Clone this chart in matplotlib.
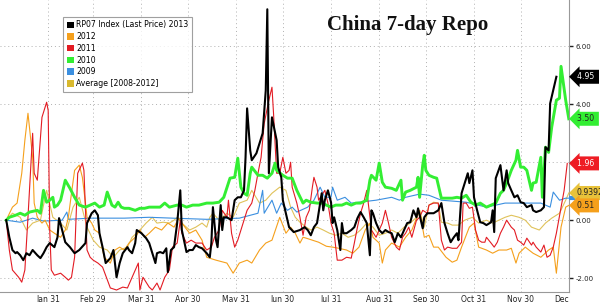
import numpy as np
import matplotlib.pyplot as plt
from matplotlib.patches import Patch

# day-of-year positions, all years overlaid on one calendar
month_days = [31, 60, 91, 121, 152, 182, 213, 244, 274, 305, 335, 366]
month_labels = ["Jan 31", "Feb 29", "Mar 31", "Apr 30", "May 31", "Jun 30",
                "Jul 31", "Aug 31", "Sep 30", "Oct 31", "Nov 30", "Dec"]

# RP07 2013 (black)
days_2013 = [4,6,8,10,11,13,15,17,19,21, 24,26,28,30,32,35,37,38,40,42,
             45,48,51,55,56,59,61,63,64,66, 68,71,73,75,77,79,82,83,85,87,
             88,91,94,96,100,101,103,105,107,108, 110,112,114,116,117,120,122,124,126,128,
             130,133,135,136,137,139,140,142,143,144, 146,149,151,153,155,157,158,159,161,162,
             165,167,169,171,172,173,175,178,179,181, 182,186,189,193,196,198,200,202,204,207,
             208,209,211,213,214,215,217,219,220,221, 223,226,228,230,232,234,236,238,239,240,
             242,244,246,248,250,252,254,256,258,260, 262,264,266,268,269,272,273,275,276,279,
             282,284,286,288,290,292,294,295,297,299, 301,302,304,305,307,309,311,313,316,317,
             318,319,322,324,326,327,329,331,333,335, 337,339,342,343,345,348,350,351,353,354,
             358]
vals_2013 = [0.00,-0.59,-1.03,-1.14,-1.10,-1.21,-1.38,-1.14,-1.21,-1.03, -1.21,-1.31,-1.14,-0.93,-0.79,-0.93,-0.59,0.07,-0.34,-0.76,
             -0.93,-1.14,-1.03,-0.79,-0.10,0.24,0.34,0.17,-0.45,-0.93, -1.48,-1.31,-1.03,-1.97,-1.48,-1.14,-0.93,-1.03,-1.14,-0.79,
             -0.34,-0.45,-0.62,-0.79,-1.48,-1.14,-1.10,-1.14,-0.97,-1.79, -1.03,-0.93,-0.10,1.03,-0.34,-1.10,-1.03,-1.03,-0.86,-0.93,
             -0.97,-1.14,-1.28,-0.79,0.45,-0.69,-0.93,0.52,-0.34,0.10, 0.10,0.00,0.69,0.79,0.79,1.03,2.17,3.86,2.41,2.07,
             2.31,2.66,3.00,4.48,7.28,1.62,3.55,2.76,1.83,1.48, 0.69,-0.24,-0.41,-0.34,-0.24,-0.34,-0.52,-0.24,-0.10,0.93,
             0.34,0.69,1.03,0.62,-0.10,0.10,-0.34,-1.03,-0.10,-0.45, -0.45,-0.34,-0.24,0.07,0.28,0.10,-0.10,-1.21,0.34,0.24,
             -0.10,-0.34,-0.45,-0.34,-0.41,-0.45,-0.76,-0.45,-0.59,-0.34, -0.10,-0.07,0.34,0.10,0.41,-0.28,0.10,0.24,0.24,0.24,
             0.34,0.59,-0.10,-0.45,-0.76,-0.59,-0.45,-0.69,0.93,1.28, 1.62,1.28,1.72,0.79,0.34,-0.07,-0.10,-0.17,-0.07,0.34,
             -0.41,1.45,1.90,1.03,1.72,1.28,1.03,0.79,0.86,0.62, 0.59,0.45,0.52,0.34,0.28,0.34,0.45,2.52,2.41,4.03,
             4.95]

# 2012 (orange)
days_2012 = [4,8,11,14,16,18,21,22,24,27, 29,32,35,39,42,44,46,48,51,53,
             55,56,59,61,64,67,71,74,77,80, 83,87,90,93,96,100,104,108,112,115,
             118,122,126,130,133,139,146,150,154,159, 162,167,171,175,180,184,187,190,193,195,
             197,201,205,210,214,218,223,227,231,235, 238,240,244,246,248,252,257,261,265,270,
             273,276,279,282,287,291,294,297,302,305, 308,313,317,321,326,329,332,334,338,343,
             348,353,356,358,361,364,366]
vals_2012 = [0.00,0.45,0.59,1.62,2.76,3.69,2.17,0.59,0.10,-0.10, 0.00,-0.34,-0.45,-0.59,-0.34,0.10,0.93,1.72,1.90,1.48,
             0.59,0.10,-0.10,-0.34,-0.45,-1.28,-1.48,-1.03,-0.93,-1.03, -0.79,-0.59,-0.34,-0.59,-0.45,-0.24,-0.34,-0.10,-0.24,0.07,
             -0.17,-0.45,-0.34,-0.69,-1.28,-1.38,-1.48,-1.83,-1.48,-1.38, -1.48,-1.03,-0.79,-0.69,0.10,-0.45,-0.24,-0.45,-0.79,-0.59,
             -0.62,-0.69,-0.76,-0.90,-0.93,-0.97,-1.03,-1.14,-0.93,-0.34, -0.10,-0.59,-0.79,-1.48,-1.03,-0.79,-0.93,-0.59,-0.34,0.34,
             -0.59,-0.52,-0.93,-0.93,-1.28,-1.45,-1.38,-0.93,-0.24,-0.10, -0.93,-1.03,-1.14,-1.03,-1.03,-0.97,-1.48,-1.14,-0.93,-1.14,
             -1.28,-1.03,-0.93,-1.83,-0.24,0.45,0.51]

# 2011 (red)
days_2011 = [4,6,8,12,14,16,18,21,22,24, 27,30,31,32,33,35,39,42,44,46,
             48,50,53,54,56,58,60,63,66,71, 75,79,82,85,87,89,90,92,94,96,
             98,101,103,106,109,111,114,116,117,120, 123,126,130,133,136,138,141,143,146,147,
             149,151,153,155,157,159,162,164,166,168, 170,173,175,176,178,180,182,184,186,187,
             188,191,193,195,197,199,201,202,204,205, 209,211,213,215,217,220,223,226,228,230,
             232,234,236,238,239,242,244,246,248,250, 252,255,257,259,261,263,265,268,270,272,
             275,276,279,282,284,286,288,291,294,297, 298,300,302,304,306,308,310,312,313,316,
             318,320,322,324,326,329,331,333,335,337, 339,342,343,345,348,350,352,354,356,358,
             361,363,365]
vals_2011 = [0.00,-1.03,-1.72,-1.97,-2.14,-1.72,0.10,3.00,1.62,1.38, 3.55,4.07,3.79,-0.34,-1.72,-1.90,-1.83,-1.97,-2.07,-1.97,
             -1.28,1.62,1.97,1.72,-1.03,-1.28,-1.38,-1.48,-1.62,-2.34, -2.41,-2.31,-2.34,-1.97,-1.72,-1.48,-2.41,-1.97,-2.14,-2.31,
             -2.41,-2.17,-2.41,-1.97,-1.72,-0.93,-0.79,0.00,-0.45,-0.79, -0.69,-0.79,-0.79,-1.03,-0.93,-0.59,-0.34,0.34,0.10,0.69,
             -0.45,-0.93,-0.69,-0.34,0.00,0.34,0.59,1.03,1.62,2.17, 3.34,4.14,4.59,3.69,1.62,1.62,2.17,1.62,1.72,2.00,
             1.14,0.59,0.10,-0.52,0.10,0.34,1.14,1.48,1.14,0.69, 1.03,0.59,-0.10,-0.45,-1.38,-1.38,-1.28,-1.31,-0.79,-0.24,
             0.24,0.59,1.03,0.10,-0.34,-0.59,-0.34,-0.10,0.34,-0.10, -0.59,-0.93,-1.03,-0.59,-0.45,-0.24,-0.59,0.00,0.10,0.34,
             0.24,0.52,0.59,0.59,-0.69,-1.03,-0.93,-0.97,-0.97,-0.76, 0.59,0.59,0.41,0.45,-0.34,-0.69,-0.76,-0.76,-0.59,-0.79,
             -0.93,-0.76,-0.45,-0.24,0.00,-0.24,-0.34,-0.69,-0.76,-0.86, -0.62,-0.86,-0.76,-0.93,-1.10,-0.86,-1.28,-1.21,-0.93,-0.45,
             0.45,1.03,1.96]

# 2010 (green)
days_2010 = [4,6,10,13,16,19,24,26,28,30, 32,34,35,37,39,42,45,48,51,55,
             58,61,64,67,69,72,74,76,78,80, 83,87,90,93,96,103,106,109,114,117,
             120,124,128,133,137,141,144,148,151,153, 155,157,159,161,162,166,169,172,175,177,
             178,182,185,188,191,195,197,200,204,207, 210,213,216,220,223,226,229,232,236,238,
             239,242,244,246,248,252,255,258,259,261, 264,268,269,270,272,273,274,276,279,281,
             284,287,291,294,297,300,303,306,309,313, 316,319,322,324,326,329,332,333,335,337,
             339,342,343,345,348,349,351,353,355,358, 360,361,364,366]
vals_2010 = [0.00,0.10,0.17,0.24,0.17,0.28,0.34,0.24,1.03,0.62, 0.69,0.79,0.45,0.52,0.69,1.38,1.10,0.79,0.52,0.45,
             0.52,0.59,0.45,0.52,0.97,0.52,0.45,0.62,0.45,0.41, 0.41,0.34,0.41,0.41,0.45,0.45,0.59,0.45,0.52,0.52,
             0.45,0.52,0.52,0.59,0.59,0.62,0.79,1.45,1.48,2.14, 1.14,0.93,0.86,1.62,1.83,1.55,1.55,1.45,1.62,1.97,
             1.72,1.55,1.45,1.45,1.03,0.59,0.69,0.62,0.59,0.59, 0.52,0.45,0.52,0.52,0.59,0.52,0.59,0.59,0.69,1.38,
             1.55,1.38,1.97,1.31,1.14,1.10,1.03,1.38,0.69,0.97, 1.03,1.14,1.48,0.79,1.90,2.24,1.72,1.55,1.48,1.45,
             0.76,0.76,0.76,0.79,0.76,0.86,0.62,0.52,0.59,0.45, 0.52,0.59,0.93,1.03,1.28,1.72,2.07,2.41,1.83,1.83,
             1.72,1.03,1.28,1.31,2.17,0.79,2.52,2.34,3.21,4.14, 4.21,5.31,4.14,3.50]

# 2009 (blue)
days_2009 = [4,13,21,28,40,43,44,58,80,96, 111,133,154,166,169,170,175,178,181,185,
             188,191,198,202,206,209,213,214,217,222, 226,231,242,252,257,261,270,276,284,300,
             313,325,338,348,354,356,360,364,366]
vals_2009 = [0.00,-0.07,0.07,-0.03,0.00,0.28,0.03,0.07,0.07,0.10, 0.07,0.03,0.07,0.24,1.03,0.24,0.69,0.24,0.59,0.34,
             0.45,0.28,0.45,0.69,1.14,0.79,0.79,1.14,0.69,0.79, 0.59,0.62,0.69,0.79,0.69,0.79,0.90,0.86,0.69,0.62,
             0.45,0.59,0.59,0.59,0.45,0.97,0.69,0.76,0.76]

# Average [2008-2012] (gold)
days_avg = [4,8,13,17,21,26,30,34,39,43, 47,51,56,60,64,69,73,77,82,85,
            90,94,98,101,105,109,112,114,117,122, 126,130,133,135,137,141,146,150,154,159,
            162,167,171,175,180,184,187,190,193,197, 200,204,208,212,216,220,224,228,232,236,
            240,244,248,252,256,260,264,268,270,273, 276,279,282,284,288,291,295,299,304,308,
            313,317,321,325,329,334,338,342,347,351, 355,360,364,366]
vals_avg = [0.00,0.24,0.10,-0.34,-0.10,0.00,1.03,0.10,-0.10,-0.34, 0.45,0.79,-0.24,-0.69,-0.93,-1.03,-1.28,-1.03,-0.93,-0.59,
            -0.34,-0.10,0.10,-0.10,-0.07,-0.10,0.00,0.10,-0.10,-0.34, -0.24,-0.10,-0.24,0.10,0.24,0.00,0.24,0.10,0.59,0.69,
            1.03,0.59,0.69,0.93,1.14,1.03,0.45,0.10,-0.07,-0.24, -0.34,-0.24,-0.34,-0.45,-0.52,-0.45,-0.59,-0.52,-0.34,-0.10,
            -0.24,-0.52,-0.45,-0.34,-0.45,-0.24,-0.10,0.10,0.34,-0.24, 0.52,0.62,0.59,-0.07,-0.10,-0.17,-0.17,0.00,0.10,-0.10,
            0.00,-0.10,0.00,0.10,0.17,0.10,0.00,-0.24,-0.34,-0.10, 0.07,0.24,0.69,0.94]

# last-value tags on the right axis (2009 tag sits hidden behind the others)
last_2009 = 0.76
tag_vals = [0.9392, 0.51, 1.96, 3.50, 4.95]
tag_text = ["0.9392", "0.51 ", "1.96 ", "3.50 ", "4.95 "]
tag_bg = ["#e8c23a", "#f5a01c", "#ee1c24", "#33ee33", "#000000"]
tag_fg = ["#222222", "#222222", "white", "#222222", "white"]

c_2013 = "#000000"
c_2012 = "#f5a01c"
c_2011 = "#e31b23"
c_2010 = "#33ee33"
c_2009 = "#3b8fe0"
c_avg = "#e0c25a"

fig = plt.figure(figsize=(6, 3.02), dpi=100)
ax = fig.add_axes([0, 0.033, 0.948, 0.967])

ax.plot(days_avg, vals_avg, color=c_avg, lw=0.8, zorder=2)
ax.plot(days_2009, vals_2009, color=c_2009, lw=0.8, zorder=2.1)
ax.plot(days_2012, vals_2012, color=c_2012, lw=0.8, zorder=2.2)
ax.plot(days_2011, vals_2011, color=c_2011, lw=0.8, zorder=2.3)
ax.plot(days_2010, vals_2010, color=c_2010, lw=2.1, zorder=2.4)
ax.plot(days_2013, vals_2013, color=c_2013, lw=1.5, zorder=2.5)

ax.set_xlim(0, 366)
ax.set_ylim(-2.48, 7.6)

ax.set_xticks(month_days)
ax.set_xticklabels(month_labels)
ax.get_xticklabels()[-1].set_ha("right")
ax.tick_params(axis="x", length=0, labelsize=5.5, pad=2, labelcolor="#222222")

ax.yaxis.tick_right()
ax.set_yticks([-2, 0, 2, 4, 6])
# the 2.00 label is covered by the 2011 tag in the original
ax.set_yticklabels(["-2.00", "0.00", "", "4.00", "6.00"])
ax.tick_params(axis="y", length=3, width=1, color="#222222", labelsize=5, pad=2, labelcolor="#222222")

ax.grid(True, linestyle=(0, (1, 3)), color="#b0b0b0", linewidth=0.7)
for s in ["left", "top"]:
    ax.spines[s].set_visible(False)
for s in ["right", "bottom"]:
    ax.spines[s].set_color("#999999")
    ax.spines[s].set_linewidth(0.8)

trans = ax.get_yaxis_transform()
ax.plot([1.0, 1.06], [last_2009, last_2009], transform=trans, color=c_2009, lw=3,
        clip_on=False, zorder=4, solid_capstyle="butt")
for v, t, bg, fg in zip(tag_vals, tag_text, tag_bg, tag_fg):
    ax.text(1.014, v, t, transform=trans, ha="left", va="center", fontsize=5.6,
            color=fg, clip_on=False, zorder=5,
            bbox=dict(boxstyle="larrow,pad=0.32", fc=bg, ec="none"))

ax.text(0.717, 0.915, "China 7-day Repo", transform=ax.transAxes, ha="center", va="center",
        fontsize=15, fontweight="bold", family="Liberation Serif", color="#111111")

handles = [Patch(facecolor=c, edgecolor="none") for c in
           [c_2013, c_2012, c_2011, c_2010, c_2009, "#d9b92e"]]
labels = ["RP07 Index (Last Price) 2013", "2012", "2011", "2010", "2009", "Average [2008-2012]"]
leg = ax.legend(handles, labels, loc="upper left", bbox_to_anchor=(0.111, 0.942),
                fontsize=5.6, frameon=True, fancybox=False, handlelength=0.9, handleheight=0.9,
                handletextpad=0.3, labelspacing=0.35, borderpad=0.45, borderaxespad=0)
leg.get_frame().set_edgecolor("#888888")
leg.get_frame().set_linewidth(0.8)
leg.set_zorder(6)

fig.savefig("out.png", dpi=100)
